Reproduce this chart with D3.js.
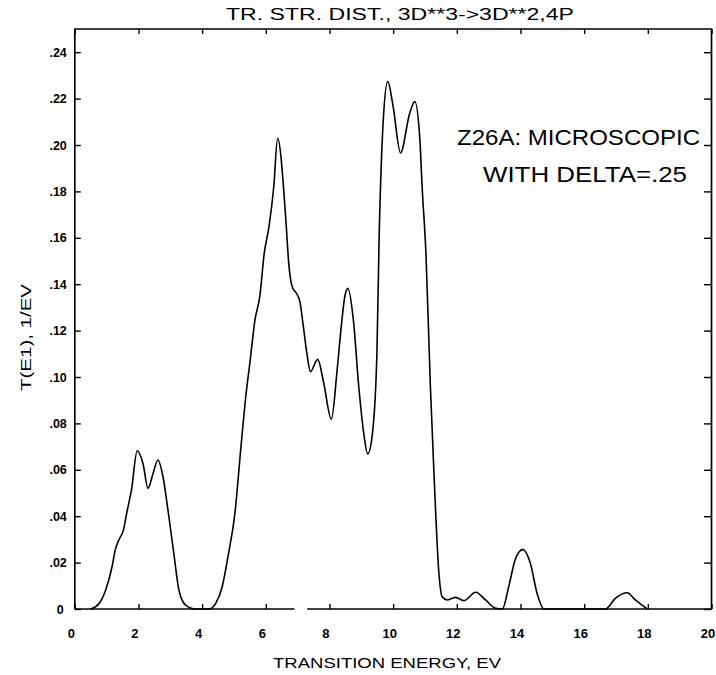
<!DOCTYPE html>
<html>
<head>
<meta charset="utf-8">
<script src="https://cdn.jsdelivr.net/npm/d3@7"></script>
<style>
  body { margin: 0; background: #fff; }
  svg text { font-family: "Liberation Sans", "DejaVu Sans", Arial, sans-serif; fill: #000; }
</style>
</head>
<body>
<svg id="chart" width="716" height="675"></svg>
<script>
// Transition energy (eV) and strength distribution T(E1) (1/eV)
const energy = [0.50, 0.77, 0.97, 1.17, 1.27, 1.38, 1.53, 1.63, 1.78, 1.96, 2.14, 2.30, 2.46, 2.61, 2.77,
  2.94, 3.11, 3.27, 3.48, 3.80, 4.22, 4.43, 4.63, 4.83, 5.03, 5.22, 5.37, 5.51, 5.66, 5.81, 5.95, 6.10,
  6.25, 6.37, 6.63, 6.72, 6.83, 6.96, 7.07, 7.18, 7.29, 7.40, 7.63, 7.82, 8.06, 8.24, 8.38, 8.48, 8.58,
  8.75, 8.92, 9.09, 9.20, 9.35, 9.49, 9.56, 9.64, 9.69, 9.83, 10.00, 10.23, 10.52, 10.68, 10.84, 10.91,
  11.03, 11.17, 11.30, 11.43, 11.54, 11.70, 11.86, 11.96, 12.22, 12.59, 12.90, 13.22, 13.43, 13.63, 13.83,
  14.07, 14.31, 14.52, 14.74, 16.67, 16.98, 17.35, 17.61, 17.98];
const strength = [0, .0025, .0082, .0182, .0254, .0297, .0341, .0413, .0513, .0682, .0628, .0520, .0585, .0642, .0570,
  .0413, .0240, .0082, .0017, 0, 0, .0025, .0096, .0240, .0413, .0700, .0915, .1073, .1246, .1346, .1533, .1648,
  .1820, .2029, .1677, .1490, .1389, .1361, .1325, .1217, .1102, .1023, .1076, .0973, .0818, .1030, .1231, .1346, .1382,
  .1246, .0958, .0743, .0668, .0757, .1102, .1605, .1964, .2108, .2273, .2165, .1966, .2137, .2187, .2022, .1820,
  .1533, .0958, .0527, .0168, .0053, .0039, .0046, .0050, .0036, .0072, .0039, .0003, 0, .0096, .0211,
  .0257, .0197, .0068, 0, 0, .0046, .0070, .0039, 0];

const xTicks = [0, 2, 4, 6, 8, 10, 12, 14, 16, 18, 20];
const xTickLabels = ["0", "2", "4", "6", "8", "10", "12", "14", "16", "18", "20"];
const yTicks = [0, .02, .04, .06, .08, .10, .12, .14, .16, .18, .20, .22, .24];
const yTickLabels = ["0", ".02", ".04", ".06", ".08", ".10", ".12", ".14", ".16", ".18", ".20", ".22", ".24"];
const titleText = "TR. STR. DIST., 3D**3->3D**2,4P";
const xTitleText = "TRANSITION ENERGY, EV";
const yTitleText = "T(E1), 1/EV";
const noteLines = ["Z26A: MICROSCOPIC", "WITH DELTA=.25"];
// the baseline is interrupted between these energies
const baselineGap = [6.9, 7.3];

const svg = d3.select("#chart");
const x = d3.scaleLinear().domain([0, 20]).range([74.8, 711.5]);
const y = d3.scaleLinear().domain([0, 0.25]).range([609, 29]);

// frame: left, top, right sides
svg.append("path")
  .attr("d", `M${x(0)},${y(0)}V${y(0.25)}H${x(20)}V${y(0)}`)
  .attr("fill", "none").attr("stroke", "#000").attr("stroke-width", 1.7);
// bottom side, drawn in two pieces
[[0, baselineGap[0]], [baselineGap[1], 20]].forEach(([a, b]) => {
  svg.append("line")
    .attr("x1", x(a)).attr("x2", x(b)).attr("y1", y(0)).attr("y2", y(0))
    .attr("stroke", "#000").attr("stroke-width", 1.7);
});

function styleAxis(g) {
  g.select(".domain").remove();
  g.selectAll(".tick line").attr("stroke", "#000").attr("stroke-width", 1.4);
}

// bottom axis with inward ticks and labels
svg.append("g")
  .attr("transform", `translate(0,${y(0)})`)
  .call(d3.axisBottom(x).tickValues(xTicks).tickSize(-5).tickPadding(20)
    .tickFormat((d, i) => xTickLabels[i]))
  .call(styleAxis)
  .call(g => g.selectAll(".tick text")
    .attr("font-size", 13).attr("font-weight", "bold").attr("dx", -4)
    .attr("font-family", "Liberation Sans, DejaVu Sans, sans-serif"));

// top axis, ticks only
svg.append("g")
  .attr("transform", `translate(0,${y(0.25)})`)
  .call(d3.axisTop(x).tickValues(xTicks).tickSize(-5).tickFormat(""))
  .call(styleAxis);

// left axis with inward ticks and labels
svg.append("g")
  .attr("transform", `translate(${x(0)},0)`)
  .call(d3.axisLeft(y).tickValues(yTicks).tickSize(-6).tickPadding(8)
    .tickFormat((d, i) => yTickLabels[i]))
  .call(styleAxis)
  .call(g => g.selectAll(".tick text")
    .attr("font-size", 12.5).attr("font-weight", "bold")
    .attr("font-family", "Liberation Sans, DejaVu Sans, sans-serif")
    .attr("dx", d => d === 0 ? -3 : 0));

// right axis, ticks only
svg.append("g")
  .attr("transform", `translate(${x(20)},0)`)
  .call(d3.axisRight(y).tickValues(yTicks).tickSize(-7.5).tickFormat(""))
  .call(styleAxis);

// strength curve
const pts = energy.map((e, i) => [e, strength[i]]);
svg.append("path")
  .datum(pts)
  .attr("fill", "none")
  .attr("stroke", "#000")
  .attr("stroke-width", 1.6)
  .attr("stroke-linejoin", "round")
  .attr("d", d3.line().x(d => x(d[0])).y(d => y(d[1])).curve(d3.curveMonotoneX));

// titles
svg.append("text")
  .attr("x", 226).attr("y", 20)
  .attr("font-size", 16)
  .attr("textLength", 348).attr("lengthAdjust", "spacingAndGlyphs")
  .text(titleText);

svg.append("text")
  .attr("x", 273).attr("y", 668)
  .attr("font-size", 15)
  .attr("textLength", 228).attr("lengthAdjust", "spacingAndGlyphs")
  .text(xTitleText);

svg.append("text")
  .attr("transform", "translate(31,391) rotate(-90)")
  .attr("font-size", 15)
  .attr("textLength", 107).attr("lengthAdjust", "spacingAndGlyphs")
  .text(yTitleText);

// annotation
svg.append("text")
  .attr("x", 457).attr("y", 145)
  .attr("font-size", 22)
  .attr("textLength", 243).attr("lengthAdjust", "spacingAndGlyphs")
  .text(noteLines[0]);
svg.append("text")
  .attr("x", 483).attr("y", 182)
  .attr("font-size", 22)
  .attr("textLength", 204).attr("lengthAdjust", "spacingAndGlyphs")
  .text(noteLines[1]);
</script>
</body>
</html>
